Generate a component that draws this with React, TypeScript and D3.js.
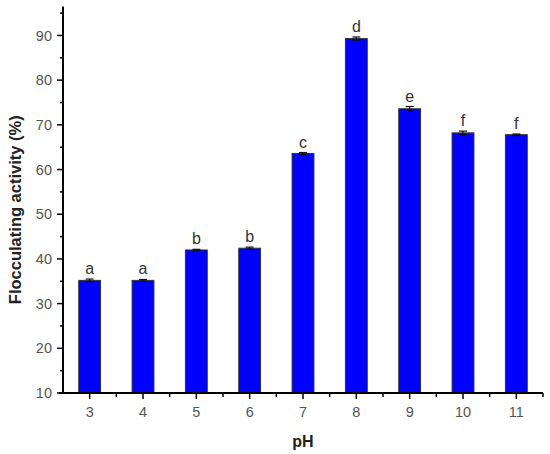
import React from "react";
import * as d3 from "d3";

const phValues = [3, 4, 5, 6, 7, 8, 9, 10, 11];
const activity = [35.2, 35.2, 42.0, 42.4, 63.6, 89.3, 73.6, 68.2, 67.8];
const errors = [0.3, 0.2, 0.15, 0.25, 0.2, 0.35, 0.5, 0.4, 0.15];
const groupLetters = ["a", "a", "b", "b", "c", "d", "e", "f", "f"];
const yTicks = [10, 20, 30, 40, 50, 60, 70, 80, 90];
const yMinorTicks = [15, 25, 35, 45, 55, 65, 75, 85, 95];
const xMinorTicks = [3.5, 4.5, 5.5, 6.5, 7.5, 8.5, 9.5, 10.5, 11.5];

const W = 550;
const H = 454;
const FONT = "'Liberation Sans', Arial, sans-serif";

export default function App() {
  const x = d3.scaleLinear().domain([2.5, 11.5]).range([63, 543]);
  const y = d3.scaleLinear().domain([10, 96.5]).range([393, 6.4]);
  const barW = x(3.41) - x(3);
  const axisY = y(10);
  const axisX = x(2.5);

  return (
    <svg
      width={W}
      height={H}
      style={{ position: "absolute", left: 0, top: 0, background: "#fff" }}
    >
      {/* bars */}
      {phValues.map((p, i) => (
        <rect
          key={"bar" + p}
          x={x(p) - barW / 2}
          y={y(activity[i])}
          width={barW}
          height={axisY - y(activity[i])}
          fill="#0000ff"
          stroke="#333"
          strokeWidth={1}
        />
      ))}
      {/* error bars */}
      {phValues.map((p, i) => {
        const cx = x(p);
        const top = y(activity[i] + errors[i]);
        const bot = y(activity[i] - errors[i]);
        return (
          <g key={"err" + p} stroke="#111" strokeWidth={1.2}>
            <line x1={cx} x2={cx} y1={top} y2={bot} />
            <line x1={cx - 4} x2={cx + 4} y1={top} y2={top} />
            <line x1={cx - 4} x2={cx + 4} y1={bot} y2={bot} />
          </g>
        );
      })}
      {/* letters */}
      {phValues.map((p, i) => (
        <text
          key={"lt" + p}
          x={x(p)}
          y={y(activity[i] + errors[i]) - 5}
          textAnchor="middle"
          fontFamily={FONT}
          fontSize={16}
          fill="#333"
        >
          {groupLetters[i]}
        </text>
      ))}
      {/* y axis */}
      <line x1={axisX} x2={axisX} y1={y(96.5)} y2={axisY} stroke="#000" strokeWidth={2} />
      {yTicks.map((t) => (
        <g key={"yt" + t}>
          <line x1={axisX - 6} x2={axisX} y1={y(t)} y2={y(t)} stroke="#000" strokeWidth={1.5} />
          <text
            x={axisX - 11}
            y={y(t)}
            dy="0.35em"
            textAnchor="end"
            fontFamily={FONT}
            fontSize={14.5}
            fill="#555"
          >
            {t}
          </text>
        </g>
      ))}
      {yMinorTicks.map((t) => (
        <line key={"ym" + t} x1={axisX - 3} x2={axisX} y1={y(t)} y2={y(t)} stroke="#000" strokeWidth={1.5} />
      ))}
      {/* x axis */}
      <line x1={axisX - 4} x2={x(11.5)} y1={axisY} y2={axisY} stroke="#000" strokeWidth={2} />
      {phValues.map((p) => (
        <g key={"xt" + p}>
          <line x1={x(p)} x2={x(p)} y1={axisY} y2={axisY + 6} stroke="#000" strokeWidth={1.5} />
          <text
            x={x(p)}
            y={axisY + 19}
            dy="0.35em"
            textAnchor="middle"
            fontFamily={FONT}
            fontSize={14.5}
            fill="#555"
          >
            {p}
          </text>
        </g>
      ))}
      {xMinorTicks.map((t) => (
        <line key={"xm" + t} x1={x(t)} x2={x(t)} y1={axisY} y2={axisY + 4} stroke="#000" strokeWidth={1.5} />
      ))}
      {/* axis titles */}
      <text
        x={(x(2.5) + x(11.5)) / 2}
        y={441}
        dy="0.35em"
        textAnchor="middle"
        fontFamily={FONT}
        fontSize={16}
        fontWeight="bold"
        fill="#222"
      >
        pH
      </text>
      <text
        transform={`translate(15, ${(y(10) + y(96.5)) / 2 + 10}) rotate(-90)`}
        dy="0.35em"
        textAnchor="middle"
        fontFamily={FONT}
        fontSize={16.5}
        fontWeight="bold"
        fill="#222"
      >
        Flocculating activity (%)
      </text>
    </svg>
  );
}
